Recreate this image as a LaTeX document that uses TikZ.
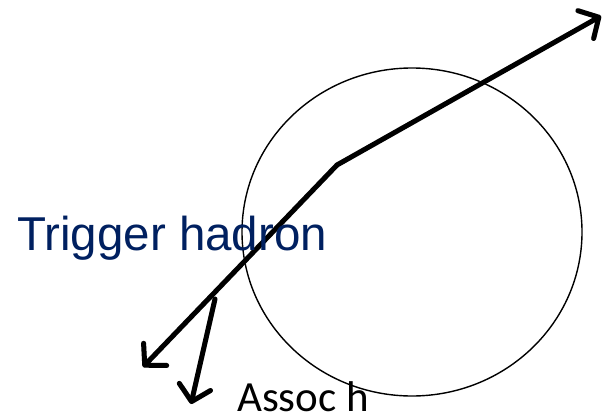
\documentclass[tikz,border=0pt]{standalone}
\usepackage{fontspec}
\usetikzlibrary{arrows.meta,shapes.geometric}
\newfontfamily\arialf{Liberation Sans}
\newfontfamily\calibf{Carlito}
\definecolor{navytext}{HTML}{002060}
\begin{document}
\begin{tikzpicture}[x=1pt,y=-1pt,
  track/.style={line width=5pt, line join=round, line cap=round,
    -{Straight Barb[length=15pt,width=32pt,line cap=round,line join=round]}},
  trackshadow/.style={track, draw=black!25, opacity=0.6},
  ring/.style={draw, line width=1.4pt, ellipse, minimum width=340pt, minimum height=328pt, inner sep=0pt, outer sep=0pt}]
\useasboundingbox (0,0) rectangle (607,417);
\node[ring] (ringnode) at (412,232) {};
\coordinate (tipR) at (601,16);
\coordinate (kink) at (337,165);
\coordinate (tipL) at (143,367);
\coordinate (aStart) at (215,299);
\coordinate (aTip) at (191,404);
% shadows
\begin{scope}[shift={(2,2.5)}]
\draw[trackshadow] (kink) -- (tipR);
\draw[trackshadow] (kink) -- (tipL);
\draw[trackshadow] (aStart) -- (aTip);
\end{scope}
\draw[track] (kink) -- (tipR);
\draw[track] (kink) -- (tipL);
\draw[track] (aStart) -- (aTip);
\node[anchor=base west, inner sep=0pt, text=navytext, font=\arialf\fontsize{47.5}{50}\selectfont] (trig) at (17,250) {Trigger hadron};
\node[anchor=base west, inner sep=0pt, font=\calibf\fontsize{43}{46}\selectfont] (assoc) at (237,411) {Assoc h};
\end{tikzpicture}
\end{document}
